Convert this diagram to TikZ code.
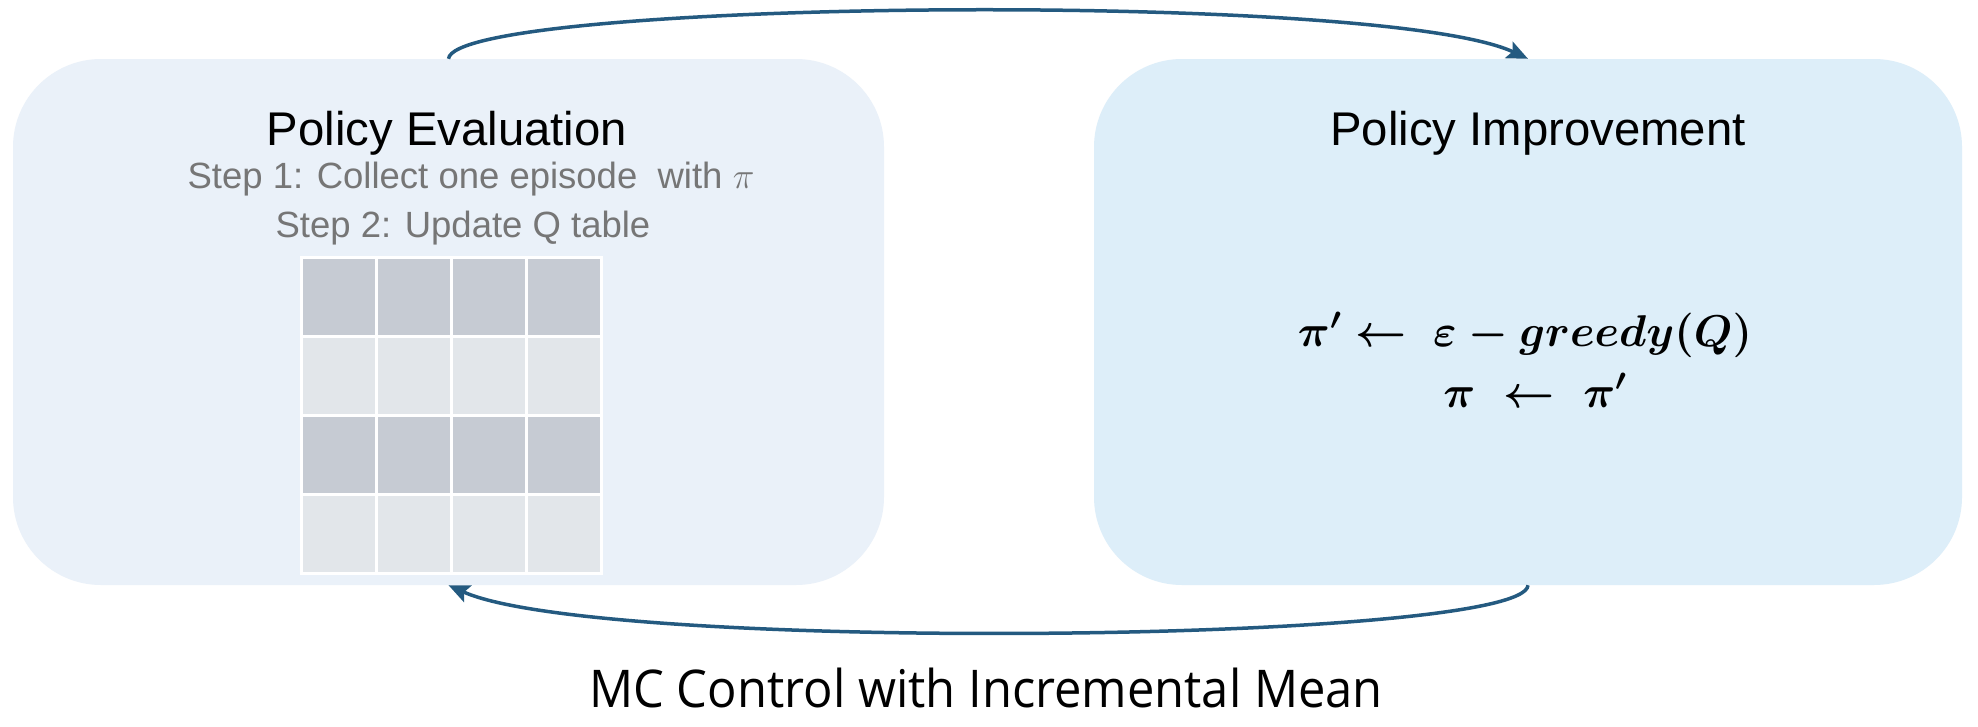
\documentclass[tikz,border=0pt]{standalone}
\usepackage{fix-cm}
\usepackage{fontspec}
\setmainfont{Liberation Sans}
\newfontfamily\titlefont[FakeStretch=0.94]{Open Sans}
\usetikzlibrary{arrows.meta}
\definecolor{lboxc}{HTML}{EAF1F9}
\definecolor{rboxc}{HTML}{DDEEF9}
\definecolor{darkcell}{HTML}{C6CBD3}
\definecolor{lightcell}{HTML}{E2E6EA}
\definecolor{arrowc}{HTML}{245A80}
\definecolor{stepc}{HTML}{767676}
\begin{document}
\begin{tikzpicture}[x=1pt,y=-1pt,
  panel/.style={rounded corners=88pt, minimum height=526pt, inner sep=0pt, draw=none},
  cell/.style={minimum width=72.3pt, minimum height=76.3pt, inner sep=0pt, draw=none},
  heading/.style={anchor=base, inner sep=0pt, font=\fontsize{47.3}{56}\selectfont},
  steptext/.style={anchor=base, inner sep=0pt, text=stepc, font=\fontsize{36.5}{44}\selectfont},
  formula/.style={anchor=base, inner sep=0pt, font=\fontsize{44.5}{54}\selectfont\boldmath},
  conn/.style={draw=arrowc, line width=3.5pt, -{Stealth[length=21pt,width=18pt,inset=4pt]}},
  caption/.style={anchor=base, inner sep=0pt, font=\titlefont\fontsize{52}{62}\selectfont}]
\useasboundingbox (0,0) rectangle (1978,726);
\fill[white] (0,0) rectangle (1978,726);
% panels
\node[panel, fill=lboxc, minimum width=871pt] (L) at (448.5,322) {};
\node[panel, fill=rboxc, minimum width=868pt] (R) at (1528,322) {};
% left panel texts
\node[heading] (evaltitle) at (447,145) {Policy Evaluation};
\node[steptext] (step1) at (471,188) {Step 1: Collect one episode\ \ with $\pi$};
\node[steptext] (step2) at (463,237) {Step 2: Update Q table};
% Q table
\node[fill=white, minimum width=303pt, minimum height=319pt, inner sep=0pt] (Q) at (451.5,415.5) {};
\foreach \r in {0,2}{
  \foreach \c in {0,...,3}{
    \node[cell, fill=darkcell] (q\r\c) at (338.9+75*\c,297+79*\r) {};
  }
}
\foreach \r in {1,3}{
  \foreach \c in {0,...,3}{
    \node[cell, fill=lightcell] (q\r\c) at (338.9+75*\c,297+79*\r) {};
  }
}
% right panel texts
\node[heading] (imptitle) at (1538,145) {Policy Improvement};
\node[formula] (f1) at (1525,346) {$\pi' \leftarrow\ \varepsilon - greedy(Q)$};
\node[formula] (f2) at (1535,407) {$\pi \;\leftarrow\; \pi'$};
% connectors
\draw[conn] (L.north) .. controls +(6,-59) and +(-148,-69) .. (R.north);
\draw[conn] (R.south) .. controls +(-3,58) and +(151,68) .. (L.south);
% caption
\node[caption] (cap) at (986,707) {MC Control with Incremental Mean};
\end{tikzpicture}
\end{document}
